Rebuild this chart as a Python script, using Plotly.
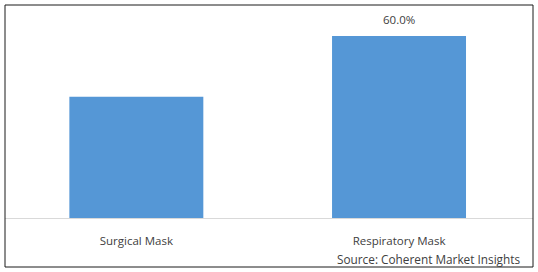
import plotly.graph_objects as go

categories = ["Surgical Mask", "Respiratory Mask"]
values = [40.0, 60.0]
labels = ["", "60.0%"]
source = "Source: Coherent Market Insights"

W, H = 538, 272
ml, mr, mt, mb = 5, 5, 5, 54
ph = H - mt - mb

fig = go.Figure()
fig.add_trace(go.Bar(
    x=categories, y=values,
    marker=dict(color="#5597d6", line=dict(width=0)),
    width=0.51, cliponaxis=False,
))
annotations = [dict(text=t, x=c, y=v, xref="x", yref="y", yanchor="bottom",
                    yshift=7, showarrow=False,
                    font=dict(size=11.5, color="#404040"))
               for c, v, t in zip(categories, values, labels) if t]
annotations.append(dict(text=source, xref="paper", yref="paper",
                        x=(522 - ml) / (W - ml - mr), y=(218 - 259) / ph,
                        xanchor="right", yanchor="middle", showarrow=False,
                        font=dict(size=11.8, color="#404040")))
fig.update_layout(
    width=W, height=H,
    margin=dict(l=ml, r=mr, t=mt, b=mb),
    paper_bgcolor="white", plot_bgcolor="white",
    showlegend=False,
    font=dict(family="Open Sans", size=11.5, color="#404040"),
    xaxis=dict(range=[-0.5, 1.51], showgrid=False, showline=True,
               linecolor="#d9d9d9", linewidth=1, ticks="",
               ticklabelstandoff=12, tickfont=dict(size=11.5, color="#404040")),
    yaxis=dict(range=[0, 70.2], showgrid=False, showticklabels=False,
               zeroline=False, showline=False),
    shapes=[dict(type="rect", xref="paper", yref="paper",
                 x0=0, x1=1, y0=-(267 - 218) / ph, y1=1,
                 line=dict(color="#1a1a1a", width=1))],
    annotations=annotations,
)
fig.write_html("out.html")
